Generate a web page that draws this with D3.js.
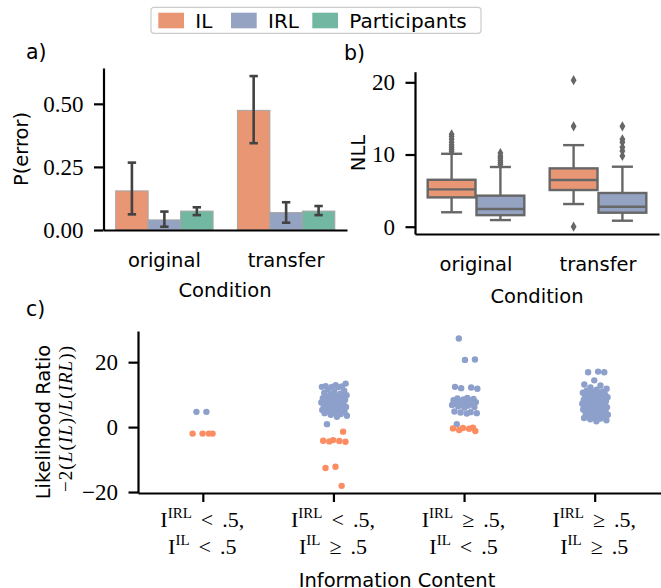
<!DOCTYPE html>
<html>
<head>
<meta charset="utf-8">
<script src="https://cdn.jsdelivr.net/npm/d3@7"></script>
<style>
  body { margin: 0; background: #fff; }
</style>
</head>
<body>
<div id="wrapper"></div>
<script>
// ---- data ----
const conditions = ["original", "transfer"];
const agents = ["IL", "IRL", "Participants"];
const barColors = ["#e99675", "#95a3c3", "#71b7a1"];
const stripColors = ["#fc8d62", "#8da0cb"];

// a) P(error): mean and CI per condition
const errIL = [0.155, 0.474];
const errIRL = [0.040, 0.069];
const errPart = [0.075, 0.075];
const ciIL = [[0.062, 0.267], [0.344, 0.610]];
const ciIRL = [[0.013, 0.073], [0.029, 0.110]];
const ciPart = [[0.059, 0.090], [0.059, 0.095]];
const errTicks = [0, 0.25, 0.5];

// b) NLL boxes: [whisker lo, q1, median, q3, whisker hi]
const nllIL = [[2.0, 4.06, 5.17, 6.5, 10.1], [3.14, 5.08, 6.47, 8.08, 11.3]];
const nllIRL = [[0.92, 1.6, 2.45, 4.3, 8.27], [0.83, 1.94, 2.77, 4.67, 8.31]];
const nllOutIL = [[10.4, 10.7, 11.0, 11.3, 11.7, 12.1, 12.5, 12.8], [0.0, 13.9, 20.3]];
const nllOutIRL = [[8.6, 8.9, 9.2, 9.5, 9.8, 10.2], [9.8, 10.5, 11.0, 11.7, 12.1, 13.9]];
const nllTicks = [0, 10, 20];

// c) likelihood ratio per information-content group
const infoIRL = ["<", "<", "\u2265", "\u2265"];
const infoIL = ["<", "\u2265", "<", "\u2265"];
const lrIRL = [
  [4.7, 4.7],
  [13.4, 12.9, 12.6, 12.5, 12.4, 12.4, 12.3, 11.6, 11.2, 10.8, 10.5, 10.3, 10.0, 9.8, 9.6, 9.4, 9.3, 9.1, 8.9, 8.8, 8.6, 8.4, 8.3, 8.1, 7.9, 7.8, 7.6, 7.4, 7.2, 7.0, 6.9, 6.7, 6.5, 6.4, 6.2, 6.0, 5.9, 5.7, 5.5, 5.3, 5.1, 4.9, 4.7, 4.5, 4.3, 4.0, 3.8, 3.5, 3.2, 0.9],
  [27.3, 20.8, 20.7, 12.4, 12.2, 12.0, 11.8, 9.0, 8.8, 8.7, 8.5, 8.3, 8.1, 7.9, 7.7, 7.5, 7.3, 7.2, 7.0, 6.8, 6.6, 6.4, 6.2, 6.0, 4.8, 4.6, 4.5, 4.3, 4.2, 0.9],
  [17.1, 16.9, 16.9, 14.4, 13.1, 12.8, 12.2, 11.8, 11.5, 11.2, 11.0, 10.8, 10.6, 10.4, 10.2, 10.0, 9.8, 9.7, 9.5, 9.3, 9.2, 9.0, 8.8, 8.7, 8.5, 8.4, 8.2, 8.1, 8.0, 7.8, 7.7, 7.5, 7.4, 7.2, 7.1, 7.0, 6.8, 6.7, 6.5, 6.4, 6.2, 6.1, 6.0, 5.8, 5.7, 5.5, 5.4, 5.2, 5.0, 4.8, 4.6, 4.4, 4.2, 4.0, 3.8, 3.6, 3.4, 3.2, 3.0, 2.8, 2.6, 2.4, 2.1, 1.8]
];
const lrIL = [
  [-2.0, -2.0, -2.0, -2.0],
  [-1.4, -4.0, -4.2, -4.3, -4.4, -4.5, -12.2, -12.6, -18.1],
  [-0.2, -0.3, -0.4, -0.5, -0.9, -1.2],
  []
];
const lrTicks = [-20, 0, 20];

// ---- drawing ----
const SANS = '"DejaVu Sans", sans-serif';
const SERIF = '"Liberation Serif", serif';
const fs = 19.5;
const tickFs = 23;
const spineW = 2.2;

var svg = d3.select("#wrapper").append("svg")
  .attr("width", 661).attr("height", 588)
  .style("font-family", SANS);
svg.append("rect").attr("width", 661).attr("height", 588).attr("fill", "#fff");

function styleAxis(g, font, size) {
  g.select(".domain").attr("stroke", "#000").attr("stroke-width", spineW);
  g.selectAll(".tick line").attr("stroke", "#000").attr("stroke-width", spineW);
  g.selectAll(".tick text").attr("fill", "#000")
    .style("font-family", font).style("font-size", size + "px");
}

// ===== a) bar chart =====
var xa = d3.scaleBand().domain(conditions).range([103.5, 347]);
var xaIn = d3.scaleBand().domain(agents).range([0.1 * xa.bandwidth(), 0.9 * xa.bandwidth()]);
var ya = d3.scaleLinear().domain([0, 0.642]).range([230, 68]);
var means = [errIL, errIRL, errPart], cis = [ciIL, ciIRL, ciPart];
var barData = conditions.flatMap((c, i) => agents.map((a, k) => ({
  c: c, a: a, k: k, v: means[k][i], lo: cis[k][i][0], hi: cis[k][i][1]
})));

var pa = svg.append("g");
pa.selectAll(".bar").data(barData).enter().append("rect")
  .attr("x", d => xa(d.c) + xaIn(d.a))
  .attr("width", xaIn.bandwidth())
  .attr("y", d => ya(d.v))
  .attr("height", d => ya(0) - ya(d.v))
  .attr("fill", d => barColors[d.k])
  .attr("stroke", "#a5a5a5").attr("stroke-width", 1);

var ecx = d => xa(d.c) + xaIn(d.a) + xaIn.bandwidth() / 2;
var eb = pa.selectAll(".err").data(barData).enter().append("g")
  .attr("stroke", "#424242").attr("stroke-width", 2.6);
eb.append("line").attr("x1", ecx).attr("x2", ecx)
  .attr("y1", d => ya(d.lo)).attr("y2", d => ya(d.hi));
["lo", "hi"].forEach(function(e) {
  eb.append("line")
    .attr("x1", d => ecx(d) - 4.2).attr("x2", d => ecx(d) + 4.2)
    .attr("y1", d => ya(d[e])).attr("y2", d => ya(d[e]));
});

pa.append("g").attr("transform", "translate(103.5,0)")
  .call(d3.axisLeft(ya).tickValues(errTicks).tickFormat(d3.format(".2f"))
    .tickSize(9.5).tickPadding(10.5).tickSizeOuter(0))
  .call(g => styleAxis(g, SERIF, tickFs));
pa.append("g").attr("transform", "translate(0,230)")
  .call(d3.axisBottom(xa).tickSize(0).tickSizeOuter(0))
  .call(g => styleAxis(g, SANS, fs))
  .call(g => g.selectAll(".tick text").attr("y", 37).attr("dy", 0));

pa.append("text").attr("transform", "translate(28,149) rotate(-90)")
  .attr("text-anchor", "middle").attr("font-size", fs).text("P(error)");
pa.append("text").attr("x", 225).attr("y", 296.7)
  .attr("text-anchor", "middle").attr("font-size", fs).text("Condition");
pa.append("text").attr("x", 26).attr("y", 59).attr("font-size", 20.5).text("a)");

// ===== legend =====
var leg = svg.append("g");
leg.append("rect").attr("x", 151).attr("y", 7.3).attr("width", 330).attr("height", 26)
  .attr("rx", 3).attr("fill", "#fff").attr("stroke", "#cccccc").attr("stroke-width", 1.2);
var legX = [158.3, 231, 312.3];
agents.forEach(function(a, k) {
  leg.append("rect").attr("x", legX[k]).attr("y", 12.7).attr("width", 25.7).attr("height", 15.6)
    .attr("fill", barColors[k]);
  leg.append("text").attr("x", legX[k] + 37).attr("y", 28.3).attr("font-size", 20).text(a);
});

// ===== b) box plot =====
var xb = d3.scaleBand().domain(conditions).range([415, 659]);
var xbIn = d3.scaleBand().domain(["IL", "IRL"]).range([0.1 * xb.bandwidth(), 0.9 * xb.bandwidth()]);
var yb = d3.scaleLinear().domain([-1.01, 21.47]).range([234, 71.7]);
var boxGray = "#676767";
var boxData = conditions.flatMap((c, i) => [
  { c: c, h: "IL", k: 0, s: nllIL[i], out: nllOutIL[i] },
  { c: c, h: "IRL", k: 1, s: nllIRL[i], out: nllOutIRL[i] }
]);

var pb = svg.append("g");
var bx = pb.selectAll(".box").data(boxData).enter().append("g")
  .attr("stroke", boxGray).attr("stroke-width", 2.4);
var cxb = d => xb(d.c) + xbIn(d.h) + xbIn.bandwidth() / 2;
var bw = xbIn.bandwidth() * 0.98;
bx.append("line").attr("x1", cxb).attr("x2", cxb)
  .attr("y1", d => yb(d.s[0])).attr("y2", d => yb(d.s[1]));
bx.append("line").attr("x1", cxb).attr("x2", cxb)
  .attr("y1", d => yb(d.s[3])).attr("y2", d => yb(d.s[4]));
[0, 4].forEach(function(j) {
  bx.append("line")
    .attr("x1", d => cxb(d) - bw * 0.22).attr("x2", d => cxb(d) + bw * 0.22)
    .attr("y1", d => yb(d.s[j])).attr("y2", d => yb(d.s[j]));
});
bx.append("rect")
  .attr("x", d => cxb(d) - bw / 2).attr("width", bw)
  .attr("y", d => yb(d.s[3])).attr("height", d => yb(d.s[1]) - yb(d.s[3]))
  .attr("fill", d => barColors[d.k]);
bx.append("line")
  .attr("x1", d => cxb(d) - bw / 2).attr("x2", d => cxb(d) + bw / 2)
  .attr("y1", d => yb(d.s[2])).attr("y2", d => yb(d.s[2]));
var diamond = d3.symbol().type(d3.symbolDiamond).size(30);
bx.selectAll(".out").data(d => d.out.map(v => ({ v: v, d: d }))).enter().append("path")
  .attr("d", diamond)
  .attr("transform", o => "translate(" + cxb(o.d) + "," + yb(o.v) + ")")
  .attr("fill", boxGray).attr("stroke", "none");

pb.append("g").attr("transform", "translate(415,0)")
  .call(d3.axisLeft(yb).tickValues(nllTicks).tickSize(9.5).tickPadding(10.5).tickSizeOuter(0))
  .call(g => styleAxis(g, SERIF, tickFs));
pb.append("g").attr("transform", "translate(0,234)")
  .call(d3.axisBottom(xb).tickSize(0).tickSizeOuter(0))
  .call(g => styleAxis(g, SANS, fs))
  .call(g => g.selectAll(".tick text").attr("y", 37).attr("dy", 0));
pb.append("text").attr("transform", "translate(365,153) rotate(-90)")
  .attr("text-anchor", "middle").attr("font-size", fs).text("NLL");
pb.append("text").attr("x", 537).attr("y", 302.5)
  .attr("text-anchor", "middle").attr("font-size", fs).text("Condition");
pb.append("text").attr("x", 344).attr("y", 60).attr("font-size", 20.5).text("b)");

// ===== c) strip plot =====
var groups = d3.range(infoIRL.length);
var xc = d3.scaleBand().domain(groups).range([138, 660.5]);
var yc = d3.scaleLinear().domain([-20.3, 29.6]).range([493, 331]);
var pts = groups.flatMap(function(g) {
  var all = lrIRL[g].map(v => ({ g: g, v: v, col: 1 }))
    .concat(lrIL[g].map(v => ({ g: g, v: v, col: 0 })));
  // deterministic spread within +-0.1 of a category
  all.forEach(function(p, i) {
    p.jit = (((i + 1) * 0.6180339887 + g * 0.331) % 1 - 0.5) * 0.2;
  });
  return all;
});

var pc = svg.append("g");
pc.selectAll(".pt").data(pts).enter().append("circle")
  .attr("cx", d => xc(d.g) + xc.bandwidth() * (0.5 + d.jit))
  .attr("cy", d => yc(d.v))
  .attr("r", 3.2)
  .attr("fill", d => stripColors[d.col]);

pc.append("g").attr("transform", "translate(138,0)")
  .call(d3.axisLeft(yc).tickValues(lrTicks).tickSize(9.5).tickPadding(10.5).tickSizeOuter(0))
  .call(g => styleAxis(g, SERIF, tickFs));
pc.append("g").attr("transform", "translate(0,493)")
  .call(d3.axisBottom(xc).tickSize(9).tickSizeOuter(0).tickFormat(""))
  .call(g => styleAxis(g, SERIF, 20));

function infoLine(t, rel, tail, sup) {
  t.append("tspan").text("I");
  t.append("tspan").style("font-size", "15px").attr("dy", -9).text(sup);
  t.append("tspan").attr("dy", 9).attr("dx", 9).text(rel);
  t.append("tspan").attr("dx", 9).text(tail);
}
groups.forEach(function(g) {
  var cx = xc(g) + xc.bandwidth() / 2;
  var t1 = pc.append("text").attr("x", cx - 1).attr("y", 527).attr("text-anchor", "middle")
    .style("font-family", SERIF).style("font-size", "22px");
  infoLine(t1, infoIRL[g], ".5,", "IRL");
  var t2 = pc.append("text").attr("x", cx - 1).attr("y", 554).attr("text-anchor", "middle")
    .style("font-family", SERIF).style("font-size", "22px");
  infoLine(t2, infoIL[g], ".5", "IL");
});

pc.append("text").attr("x", 397).attr("y", 586.5)
  .attr("text-anchor", "middle").attr("font-size", fs).text("Information Content");
pc.append("text").attr("transform", "translate(50,422) rotate(-90)")
  .attr("text-anchor", "middle").attr("font-size", fs).text("Likelihood Ratio");
var mt = pc.append("text").attr("transform", "translate(71.5,419) rotate(-90)")
  .attr("text-anchor", "middle").style("font-family", SERIF).style("font-size", "19px")
  .attr("textLength", 146).attr("lengthAdjust", "spacing");
[["\u22122(", false], ["L", true], ["(", false], ["IL", true], [")/", false],
 ["L", true], ["(", false], ["IRL", true], ["))", false]].forEach(function(s) {
  mt.append("tspan").attr("font-style", s[1] ? "italic" : "normal").text(s[0]);
});
pc.append("text").attr("x", 26).attr("y", 316).attr("font-size", 20.5).text("c)");
</script>
</body>
</html>
